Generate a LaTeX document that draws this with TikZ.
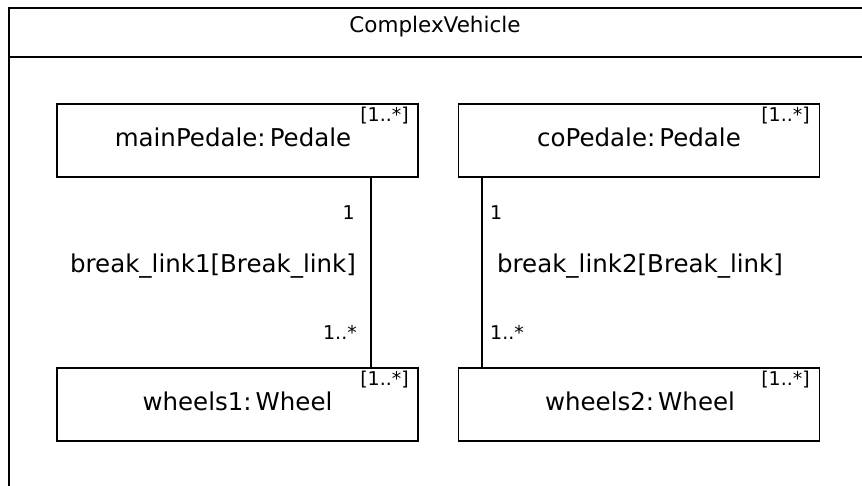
\documentclass[tikz,border=0pt]{standalone}
\usepackage{fontspec}
\setmainfont{DejaVu Sans}
\begin{document}
\begin{tikzpicture}[x=1pt,y=-1pt,
  part/.style={draw,line width=1.6pt,rectangle,minimum width=361pt,minimum height=73pt,inner sep=0pt},
  mult/.style={font=\fontsize{19}{21}\selectfont,inner sep=0pt},
  conn/.style={line width=1.6pt},
  lbl/.style={font=\fontsize{24.5}{27}\selectfont,inner sep=0pt}]
\useasboundingbox (0,0) rectangle (862,485);
\clip (0,0) rectangle (862,485);
% enclosing structured class frame
\draw[line width=1.8pt] (9,500) -- (9,8) -- (880,8);
\draw[line width=1.8pt] (9,57) -- (880,57);
\node[lbl,font=\fontsize{21.5}{24}\selectfont] (title) at (435,27) {ComplexVehicle};
% parts
\node[part] (mp) at (237.5,140.5) {};
\node[lbl] (mpt) at (233,137) {mainPedale:\,Pedale};
\node[mult,anchor=east] (mpm) at (409,116) {[1..*]};
\node[part] (cp) at (639,140.5) {};
\node[lbl] (cpt) at (639,137) {coPedale:\,Pedale};
\node[mult,anchor=east] (cpm) at (810,116) {[1..*]};
\node[part] (w1) at (237.5,404.5) {};
\node[lbl] (w1t) at (237.5,401) {wheels1:\,Wheel};
\node[mult,anchor=east] (w1m) at (409,380) {[1..*]};
\node[part] (w2) at (639,404.5) {};
\node[lbl] (w2t) at (640,401) {wheels2:\,Wheel};
\node[mult,anchor=east] (w2m) at (810,380) {[1..*]};
% connectors
\coordinate (a1) at ([xshift=-48pt]mp.south east);
\coordinate (b1) at ([xshift=-48pt]w1.north east);
\draw[conn] (a1) -- (b1);
\coordinate (a2) at ([xshift=24pt]cp.south west);
\coordinate (b2) at ([xshift=24pt]w2.north west);
\draw[conn] (a2) -- (b2);
% connector labels
\node[mult,anchor=east] (c1s) at (355,213) {1};
\node[mult,anchor=east] (c1e) at (357,332) {1..*};
\node[lbl] (c1n) at (213,266) {break\_link1[Break\_link]};
\node[mult,anchor=west] (c2s) at (490,213) {1};
\node[mult,anchor=west] (c2e) at (490,332) {1..*};
\node[lbl] (c2n) at (640,266) {break\_link2[Break\_link]};
\end{tikzpicture}
\end{document}
